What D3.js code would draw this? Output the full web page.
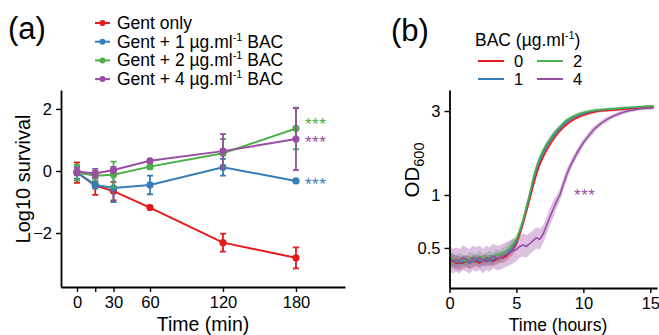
<!DOCTYPE html>
<html>
<head>
<meta charset="utf-8">
<script src="https://cdn.jsdelivr.net/npm/d3@7"></script>
<style>
  html, body { margin: 0; padding: 0; background: #fff; }
  svg { display: block; font-family: Arial, 'Liberation Sans', Helvetica, sans-serif; }
</style>
</head>
<body>
<div id="chart"></div>
<script>
// ---- panel (a): survival under gentamicin ----
const timesA = [0, 15, 30, 60, 120, 180];
const timeTicksA = [0, 15, 30, 60, 120, 180];
const timeTickLabelsA = ['0', '', '30', '60', '120', '180'];
const survTicks = [-2, 0, 2];
const seriesNamesA = ['Gent only', 'Gent + 1', 'Gent + 2', 'Gent + 4'];
const colorsA = ['#e41a1c', '#377eb8', '#4daf4a', '#984ea3'];
const survMean = [
  [-0.05, -0.47, -0.65, -1.18, -2.31, -2.80],
  [-0.05, -0.45, -0.55, -0.45, 0.12, -0.32],
  [-0.05, -0.15, -0.12, 0.14, 0.57, 1.37],
  [-0.02, -0.08, 0.03, 0.33, 0.64, 1.03],
];
const survErr = [
  [0.33, 0.30, 0.30, 0.06, 0.29, 0.34],
  [0.20, 0.12, 0.45, 0.30, 0.27, 0.04],
  [0.25, 0.15, 0.42, 0.08, 0.46, 0.67],
  [0.12, 0.15, 0.10, 0.05, 0.55, 1.00],
];
const starsA = [null, -0.31, 1.60, 1.04]; // y position of *** label per series

// ---- panel (b): growth curves ----
const bacLevels = ['0', '1', '2', '4'];
const colorsB = ['#e41a1c', '#377eb8', '#4daf4a', '#984ea3'];
const hours = d3.range(0, 15.26, 0.25);
const odRed = [
  0.43, 0.42, 0.41, 0.41, 0.41, 0.42, 0.41, 0.42, 0.42, 0.41, 0.43, 0.42,
  0.43, 0.42, 0.43, 0.44, 0.44, 0.45, 0.47, 0.49, 0.53, 0.60, 0.69, 0.81,
  0.95, 1.13, 1.32, 1.50, 1.65, 1.80, 1.94, 2.07, 2.20, 2.32, 2.42, 2.52,
  2.60, 2.68, 2.74, 2.80, 2.85, 2.89, 2.92, 2.95, 2.98, 3.00, 3.01, 3.02,
  3.03, 3.04, 3.05, 3.06, 3.07, 3.08, 3.09, 3.10, 3.11, 3.12, 3.13, 3.14,
  3.15, 3.15,
];
const odBlue = [
  0.44, 0.42, 0.42, 0.41, 0.42, 0.42, 0.41, 0.42, 0.43, 0.42, 0.42, 0.43,
  0.42, 0.43, 0.44, 0.44, 0.45, 0.46, 0.48, 0.50, 0.55, 0.62, 0.71, 0.84,
  1.00, 1.20, 1.40, 1.58, 1.74, 1.89, 2.02, 2.15, 2.28, 2.39, 2.50, 2.60,
  2.68, 2.75, 2.81, 2.86, 2.90, 2.94, 2.97, 3.00, 3.02, 3.03, 3.05, 3.06,
  3.07, 3.08, 3.09, 3.10, 3.11, 3.12, 3.13, 3.14, 3.15, 3.16, 3.17, 3.17,
  3.18, 3.18,
];
const odGreen = [
  0.45, 0.43, 0.42, 0.43, 0.43, 0.42, 0.44, 0.44, 0.43, 0.45, 0.43, 0.44,
  0.45, 0.44, 0.46, 0.45, 0.47, 0.48, 0.50, 0.53, 0.56, 0.63, 0.72, 0.86,
  1.02, 1.24, 1.45, 1.63, 1.80, 1.95, 2.08, 2.22, 2.34, 2.45, 2.56, 2.66,
  2.74, 2.80, 2.86, 2.90, 2.94, 2.97, 3.00, 3.02, 3.04, 3.05, 3.06, 3.07,
  3.08, 3.09, 3.10, 3.11, 3.12, 3.13, 3.14, 3.15, 3.16, 3.17, 3.18, 3.19,
  3.20, 3.20,
];
const odPurple = [
  0.44, 0.42, 0.43, 0.42, 0.44, 0.43, 0.42, 0.44, 0.43, 0.44, 0.42, 0.44,
  0.43, 0.45, 0.44, 0.44, 0.45, 0.46, 0.47, 0.48, 0.49, 0.51, 0.52, 0.51,
  0.53, 0.55, 0.57, 0.56, 0.60, 0.67, 0.75, 0.83, 0.92, 1.00, 1.15, 1.30,
  1.45, 1.58, 1.72, 1.85, 1.98, 2.10, 2.22, 2.34, 2.44, 2.53, 2.61, 2.68,
  2.75, 2.81, 2.86, 2.91, 2.95, 2.99, 3.02, 3.04, 3.07, 3.09, 3.10, 3.11,
  3.12, 3.13,
];
// half-width of the shaded ribbon (log10 units), one value per hour 0..15
const bandRed = [0.04, 0.035, 0.03, 0.03, 0.03, 0.025, 0.02, 0.015, 0.012, 0.01, 0.01, 0.008, 0.008, 0.008, 0.008, 0.008];
const bandBlue = [0.035, 0.03, 0.03, 0.03, 0.025, 0.02, 0.015, 0.012, 0.01, 0.01, 0.008, 0.008, 0.008, 0.008, 0.008, 0.008];
const bandGreen = [0.035, 0.03, 0.03, 0.03, 0.03, 0.025, 0.02, 0.015, 0.012, 0.01, 0.01, 0.008, 0.008, 0.008, 0.008, 0.008];
const bandPurple = [0.07, 0.07, 0.07, 0.07, 0.07, 0.065, 0.06, 0.05, 0.035, 0.025, 0.02, 0.015, 0.012, 0.01, 0.01, 0.01];
const hourTicks = [0, 5, 10, 15];
const odTicks = [0.5, 1, 3];
const odTickLabels = ['0.5', '1', '3'];

const W = 659, H = 335;
const axisColor = '#000';

const svg = d3.select('#chart').append('svg').attr('width', W).attr('height', H);

// ================= PANEL (a) =================
const xA = d3.scaleLinear().domain([-13.15, 220.3]).range([61, 345]);
const yA = d3.scaleLinear().domain([-3.74, 2.61]).range([287, 90]);

const gA = svg.append('g');

const axisBottomA = d3.axisBottom(xA).tickValues(timeTicksA)
  .tickFormat((d, i) => timeTickLabelsA[i]).tickSizeInner(5).tickSizeOuter(0).tickPadding(4);
const axisLeftA = d3.axisLeft(yA).tickValues(survTicks)
  .tickFormat(d => d < 0 ? '\u2212' + Math.abs(d) : d).tickSizeInner(5).tickSizeOuter(0).tickPadding(4);

const styleAxis = (g) => {
  g.selectAll('.domain').attr('stroke', axisColor).attr('stroke-width', 1.8);
  g.selectAll('.tick line').attr('stroke', axisColor).attr('stroke-width', 1.4);
  g.selectAll('.tick text').attr('fill', '#000').style('font-size', '16.5px')
    .style('font-family', "Arial, 'Liberation Sans', sans-serif");
};

gA.append('g').attr('transform', 'translate(0,287)').call(axisBottomA).call(styleAxis);
gA.append('g').attr('transform', 'translate(61,0)').call(axisLeftA).call(styleAxis);

// lines, error bars, points
const lineA = d3.line().x(d => xA(d[0])).y(d => yA(d[1]));
seriesNamesA.forEach((name, s) => {
  const pts = timesA.map((t, i) => [t, survMean[s][i], survErr[s][i]]);
  const g = gA.append('g');
  g.append('path').datum(pts).attr('d', lineA)
    .attr('fill', 'none').attr('stroke', colorsA[s]).attr('stroke-width', 2);
  g.selectAll('.eb').data(pts).join('path')
    .attr('d', d => {
      const x = xA(d[0]), y0 = yA(d[1] - d[2]), y1 = yA(d[1] + d[2]);
      return `M${x - 3},${y0}H${x + 3}M${x},${y0}V${y1}M${x - 3},${y1}H${x + 3}`;
    })
    .attr('fill', 'none').attr('stroke', colorsA[s]).attr('stroke-width', 1.8);
  g.selectAll('circle').data(pts).join('circle')
    .attr('cx', d => xA(d[0])).attr('cy', d => yA(d[1])).attr('r', 3.6)
    .attr('fill', colorsA[s]);
  if (starsA[s] !== null) {
    g.append('text').attr('x', xA(180) + 9).attr('y', yA(starsA[s]) + 9)
      .attr('fill', colorsA[s]).style('font-size', '17px').style('letter-spacing', '0.5px')
      .text('***');
  }
});

// axis titles
gA.append('text').attr('x', 203).attr('y', 331).attr('text-anchor', 'middle')
  .style('font-size', '19.5px').text('Time (min)');
gA.append('text').attr('transform', `translate(30,179) rotate(-90)`)
  .attr('text-anchor', 'middle').style('font-size', '20px').text('Log10 survival');

// panel label
gA.append('text').attr('x', 8).attr('y', 39).style('font-size', '31px').text('(a)');

// legend (a)
const legA = gA.append('g');
seriesNamesA.forEach((name, s) => {
  const y = 23 + s * 18.7;
  legA.append('line').attr('x1', 95).attr('x2', 110).attr('y1', y).attr('y2', y)
    .attr('stroke', colorsA[s]).attr('stroke-width', 2);
  legA.append('circle').attr('cx', 102.5).attr('cy', y).attr('r', 3).attr('fill', colorsA[s]);
  const t = legA.append('text').attr('x', 117).attr('y', y + 6).style('font-size', '17.5px');
  if (s === 0) {
    t.text(name);
  } else {
    t.append('tspan').text(name + ' \u00b5g.ml');
    t.append('tspan').attr('dy', -7).style('font-size', '11px').text('-1');
    t.append('tspan').attr('dy', 7).text(' BAC');
  }
});

// ================= PANEL (b) =================
const xB = d3.scaleLinear().domain([0, 15.5]).range([449.5, 657]);
const yB = d3.scaleLog().domain([0.296, 3.95]).range([288, 90]);

const gB = svg.append('g');

const axisBottomB = d3.axisBottom(xB).tickValues(hourTicks).tickFormat(d3.format('d'))
  .tickSizeInner(5).tickSizeOuter(0).tickPadding(4);
const axisLeftB = d3.axisLeft(yB).tickValues(odTicks)
  .tickFormat((d, i) => odTickLabels[i]).tickSizeInner(5).tickSizeOuter(0).tickPadding(4);

const odSeries = [odRed, odBlue, odGreen, odPurple];
const bands = [bandRed, bandBlue, bandGreen, bandPurple];

gB.append('clipPath').attr('id', 'clipB').append('rect')
  .attr('x', 449.5).attr('y', 85).attr('width', 210).attr('height', 203);

const area = d3.area()
  .x(d => xB(d.t))
  .y0(d => yB(d.v / Math.pow(10, d.w)))
  .y1(d => yB(d.v * Math.pow(10, d.w)));
const lineB = d3.line().x(d => xB(d.t)).y(d => yB(d.v));

const plotB = gB.append('g').attr('clip-path', 'url(#clipB)');
odSeries.forEach((vals, s) => {
  const pts = hours.map((t, i) => ({ t, v: vals[i], w: bands[s][Math.min(15, Math.floor(t))] }));
  plotB.append('path').datum(pts).attr('d', area)
    .attr('fill', colorsB[s]).attr('fill-opacity', s === 3 ? 0.35 : 0.3).attr('stroke', 'none');
});
odSeries.forEach((vals, s) => {
  const pts = hours.map((t, i) => ({ t, v: vals[i] }));
  plotB.append('path').datum(pts).attr('d', lineB)
    .attr('fill', 'none').attr('stroke', colorsB[s]).attr('stroke-width', 1.6)
    .attr('stroke-linejoin', 'round');
});

gB.append('g').attr('transform', 'translate(0,288)').call(axisBottomB).call(styleAxis);
gB.append('g').attr('transform', 'translate(449.5,0)').call(axisLeftB).call(styleAxis);

// *** for 4 ug/ml
gB.append('text').attr('x', xB(10.1)).attr('y', yB(1.04) + 9).attr('text-anchor', 'middle')
  .attr('fill', colorsB[3]).style('font-size', '17px').style('letter-spacing', '0.5px')
  .text('***');

// axis titles
gB.append('text').attr('x', 558).attr('y', 331).attr('text-anchor', 'middle')
  .style('font-size', '17.5px').text('Time (hours)');
const odLab = gB.append('text').attr('transform', `translate(419,170) rotate(-90)`)
  .attr('text-anchor', 'middle').style('font-size', '20.5px');
odLab.append('tspan').text('OD');
odLab.append('tspan').attr('dy', 5).style('font-size', '14.5px').text('600');

// panel label
gB.append('text').attr('x', 391).attr('y', 41).style('font-size', '31px').text('(b)');

// legend (b)
const legB = gB.append('g');
const legTitle = legB.append('text').attr('x', 475).attr('y', 46).style('font-size', '17.5px');
legTitle.append('tspan').text('BAC (\u00b5g.ml');
legTitle.append('tspan').attr('dy', -7).style('font-size', '11px').text('-1');
legTitle.append('tspan').attr('dy', 7).text(')');
bacLevels.forEach((lvl, s) => {
  const col = Math.floor(s / 2), row = s % 2;
  const x0 = 478 + col * 59, y = 61 + row * 18;
  legB.append('line').attr('x1', x0).attr('x2', x0 + 26).attr('y1', y).attr('y2', y)
    .attr('stroke', colorsB[s]).attr('stroke-width', 2);
  legB.append('text').attr('x', x0 + 36).attr('y', y + 6).style('font-size', '16.5px').text(lvl);
});
</script>
</body>
</html>
